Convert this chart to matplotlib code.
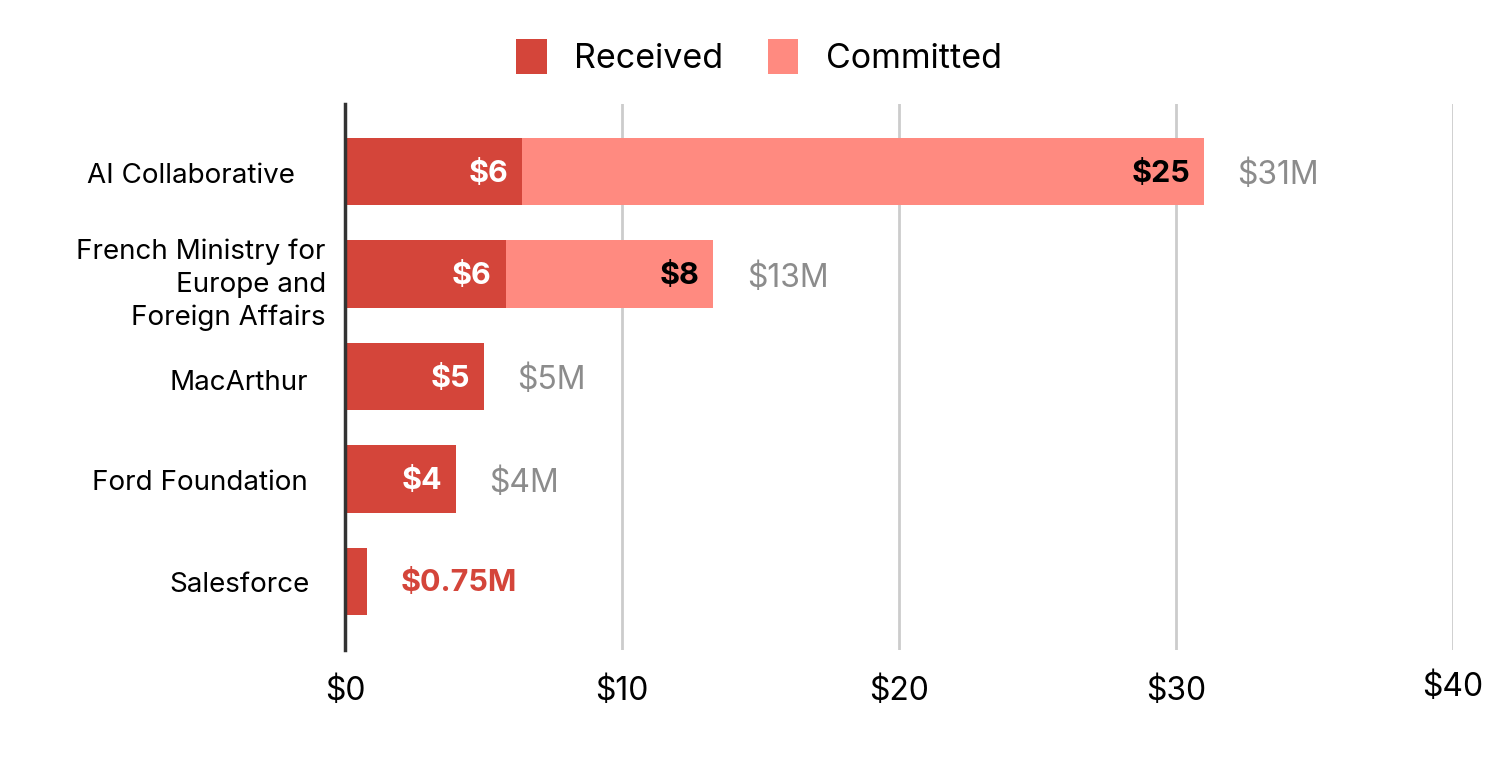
import matplotlib
matplotlib.use("Agg")
import matplotlib.pyplot as plt
from matplotlib.patches import Patch
import matplotlib.transforms as mtransforms

categories = ["AI Collaborative", "French Ministry for\nEurope and\nForeign Affairs",
              "MacArthur", "Ford Foundation", "Salesforce"]
received = [6.4, 5.8, 5.0, 4.0, 0.79]
committed = [24.6, 7.5, 0.0, 0.0, 0.0]
received_labels = ["$6", "$6", "$5", "$4", ""]
committed_labels = ["$25", "$8", "", "", ""]
total_labels = ["$31M", "$13M", "$5M", "$4M", "$0.75M"]
ticks = [0, 10, 20, 30, 40]
tick_labels = ["$0", "$10", "$20", "$30", "$40"]

RED = "#D4453A"
PINK = "#FF8A80"
GRAY = "#8C8C8C"

plt.rcParams['font.family'] = ['Inter', 'DejaVu Sans']

fig = plt.figure(figsize=(15, 7.59), dpi=100)
ax = fig.add_axes([0.23, 0.1436, 0.9687 - 0.23, 0.863 - 0.1436])

y = list(range(len(categories)))
h = 0.66
ax.barh(y, received, height=h, color=RED, zorder=3)
ax.barh(y, committed, left=received, height=h, color=PINK, zorder=3)

for i in y:
    tot = received[i] + committed[i]
    if received_labels[i]:
        ax.text(received[i] - 0.5, i + 0.02, received_labels[i], ha="right", va="center",
                color="white", fontsize=22, fontweight="bold", zorder=4)
    if committed_labels[i]:
        ax.text(tot - 0.5, i + 0.02, committed_labels[i], ha="right", va="center",
                color="black", fontsize=22, fontweight="bold", zorder=4)
    if committed[i] == 0 and received_labels[i] == "":
        ax.text(tot + 1.2, i + 0.02, total_labels[i], ha="left", va="center",
                color=RED, fontsize=22, fontweight="bold", zorder=4)
    else:
        ax.text(tot + 1.2, i + 0.04, total_labels[i], ha="left", va="center",
                color=GRAY, fontsize=23, zorder=4)

ax.set_xlim(0, 40)
ax.set_ylim(len(categories) - 1 + 0.67, -0.66)
ax.set_xticks(ticks)
ax.set_xticklabels(tick_labels, fontsize=23)
ax.set_yticks(y)
ax.set_yticklabels([])
ax.tick_params(axis="both", length=0)
ax.tick_params(axis="x", pad=19)
# the last tick label sits a little higher in the source
last = ax.get_xticklabels()[-1]
last.set_transform(last.get_transform() + mtransforms.ScaledTranslation(0, 0.04, fig.dpi_scale_trans))

# category labels, right-aligned with individual right edges (as in source)
label_dx_px = [-50, -19, -37, -37, -35]
label_dy_px = [-4, -11, -7, -4, -4]
for i, lab in enumerate(categories):
    off = mtransforms.ScaledTranslation(label_dx_px[i] / 100, label_dy_px[i] / 100, fig.dpi_scale_trans)
    tr = mtransforms.blended_transform_factory(ax.transAxes, ax.transData) + off
    ax.text(0, i, lab, transform=tr, ha="right", va="center", multialignment="right",
            fontsize=20, linespacing=1.34, color="black")

for s in ["top", "right", "bottom"]:
    ax.spines[s].set_visible(False)
ax.spines["left"].set_color("#333333")
ax.spines["left"].set_linewidth(2.5)
ax.spines["left"].set_zorder(5)
ax.grid(axis="x", color="#CCCCCC", linewidth=2, zorder=0)
ax.set_axisbelow(True)

handles = [Patch(facecolor=RED, label="Received"), Patch(facecolor=PINK, label="Committed")]
fig.legend(handles=handles, loc="center", bbox_to_anchor=(0.506, 0.925), ncol=2,
           frameon=False, fontsize=24.5, handlelength=0.9, handleheight=1.2,
           handletextpad=0.8, columnspacing=1.3)

fig.savefig("out.png", dpi=100, facecolor="white")
